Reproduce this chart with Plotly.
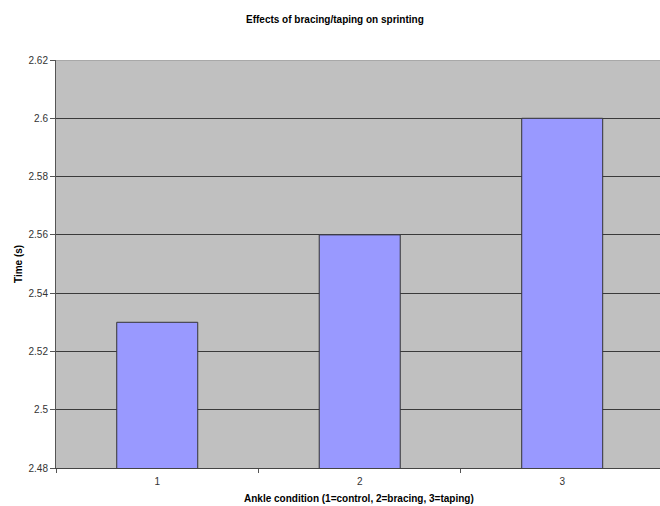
import plotly.graph_objects as go

# Sprint times for each ankle condition
conditions = ["1", "2", "3"]
times = [2.53, 2.56, 2.60]
y_ticks = [2.48, 2.50, 2.52, 2.54, 2.56, 2.58, 2.60, 2.62]
y_tick_text = ["2.48", "2.5", "2.52", "2.54", "2.56", "2.58", "2.6", "2.62"]

fig = go.Figure(
    go.Bar(
        x=conditions,
        y=times,
        width=0.4,
        marker=dict(color="#9999FF", line=dict(color="#333333", width=1)),
    )
)

fig.update_layout(
    width=660,
    height=506,
    margin=dict(l=56, r=0, t=60, b=38),
    paper_bgcolor="white",
    plot_bgcolor="#C0C0C0",
    showlegend=False,
    font=dict(family="Liberation Sans, Arial, sans-serif", size=10, color="#333333"),
    annotations=[
        dict(
            text="<b>Effects of bracing/taping on sprinting</b>",
            xref="paper", yref="paper", x=(335 - 56) / 604, y=1 + 40 / 408,
            xanchor="center", yanchor="middle", showarrow=False,
            font=dict(size=10, color="black"),
        ),
        dict(
            text="<b>Time (s)</b>",
            xref="paper", yref="paper", x=-38 / 604, y=0.5,
            xanchor="center", yanchor="middle", showarrow=False, textangle=-90,
            font=dict(size=10, color="black"),
        ),
        dict(
            text="<b>Ankle condition (1=control, 2=bracing, 3=taping)</b>",
            xref="paper", yref="paper", x=(359 - 56) / 604, y=-30 / 408,
            xanchor="center", yanchor="middle", showarrow=False,
            font=dict(size=10, color="black"),
        ),
    ],
)

fig.update_xaxes(
    type="category",
    range=[-0.5, 2.483],
    tickson="boundaries",
    ticks="outside",
    ticklen=4,
    tickcolor="#555555",
    ticklabelstandoff=4,
    showline=True,
    linecolor="#444444",
    linewidth=1,
    showgrid=False,
    tickfont=dict(size=10, color="#333333"),
)

fig.update_yaxes(
    range=[2.48, 2.62],
    tickvals=y_ticks,
    ticktext=y_tick_text,
    ticks="outside",
    ticklen=5,
    tickcolor="#555555",
    showline=True,
    linecolor="#555555",
    linewidth=1,
    showgrid=True,
    gridcolor="#3A3A3A",
    gridwidth=1,
    zeroline=False,
    tickfont=dict(size=10, color="#333333"),
)

# light border along the top of the plot area
fig.add_shape(
    type="line", xref="paper", yref="y", x0=0, x1=1, y0=2.62, y1=2.62,
    line=dict(color="#909090", width=1),
)

fig.write_html("out.html")
